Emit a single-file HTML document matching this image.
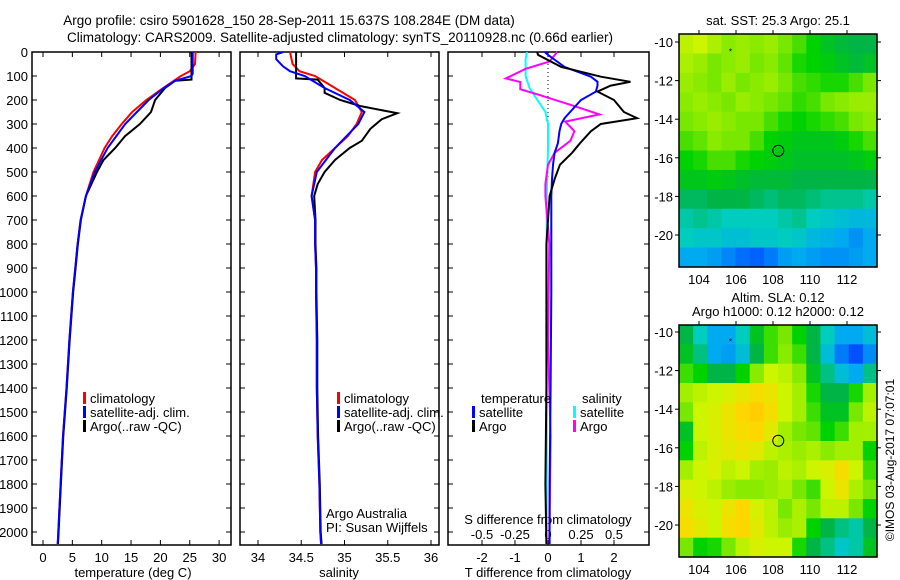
<!DOCTYPE html>
<html><head><meta charset="utf-8">
<style>
html,body{margin:0;padding:0;background:#fff;}
svg{display:block;font-family:"Liberation Sans",sans-serif;}
text{fill:#000;}
</style></head>
<body>
<svg id="fig" width="900" height="580" viewBox="0 0 900 580" xmlns="http://www.w3.org/2000/svg">
<text x="289" y="25" font-size="13.5" text-anchor="middle">Argo profile: csiro 5901628_150 28-Sep-2011 15.637S 108.284E (DM data)</text>
<text x="340" y="42" font-size="13.5" text-anchor="middle">Climatology: CARS2009. Satellite-adjusted climatology: synTS_20110928.nc (0.66d earlier)</text>
<g id="marks"></g>
</svg>
<script>
// ---------- data ----------
const depthTicks = [0,100,200,300,400,500,600,700,800,900,1000,1100,1200,1300,1400,1500,1600,1700,1800,1900,2000];
const tempTicks = [0,5,10,15,20,25,30];
const salTicks = [34,34.5,35,35.5,36];
const tdiffTicks = [-2,-1,0,1,2];
const sdiffTicks = [-0.5,-0.25,0,0.25,0.5];
const sdiffTickLabels = ["-0.5","-0.25","0","0.25","0.5"];
const lonTicks = [104,106,108,110,112];
const latTicks = [-10,-12,-14,-16,-18,-20];

const deepDepth = [700,800,900,1000,1200,1400,1600,1800,2000,2050];
const deepTemp = [6.4,5.9,5.5,5.1,4.5,4.0,3.4,3.0,2.6,2.5];
const deepSal = [34.66,34.66,34.67,34.67,34.68,34.68,34.69,34.71,34.72,34.73];

const tClimDepth = [0,50,80,100,150,200,250,300,350,400,500,600];
const tClim = [26.0,25.9,25.0,23.5,20.5,17.6,15.2,13.4,11.8,10.5,8.6,7.3];
const tSatDepth = [0,90,100,120,150,200,250,300,400,500,600];
const tSat = [25.5,25.5,25.3,22.5,20.6,18.0,16.0,14.0,11.0,8.8,7.3];
const tArgoDepth = [0,115,120,150,200,250,300,350,400,450,500,600];
const tArgo = [25.3,25.3,22.5,20.8,19.1,18.4,16.5,14.0,12.3,10.3,9.2,7.3];

const sClimDepth = [0,50,80,100,150,200,250,300,350,400,450,500,600];
const sClim = [34.37,34.40,34.48,34.66,34.89,35.12,35.20,35.14,35.04,34.89,34.74,34.66,34.62];
const sSatDepth = [0,10,30,60,80,100,150,200,250,300,400,500,600];
const sSat = [34.29,34.21,34.21,34.29,34.37,34.54,34.77,35.06,35.23,35.16,34.89,34.68,34.62];
const sArgoDepth = [0,110,115,150,170,200,225,255,280,320,370,400,450,500,550,600];
const sArgo = [34.44,34.44,34.69,34.77,34.77,34.95,35.18,35.61,35.43,35.30,35.20,35.06,34.89,34.77,34.69,34.65];

const dTDepth = [0,12,62,103,124,140,165,200,250,276,300,330,380,420,470,530,600,800,1000,1400,1800,2050];
const dTArgo = [-0.33,-0.3,0.4,1.6,2.5,1.9,1.5,2.0,2.3,2.7,1.6,1.3,0.97,0.73,0.36,0.2,0.05,-0.05,-0.05,-0.05,-0.08,-0.05];
const dTSat = [-0.1,0.0,0.5,1.3,1.5,1.5,1.45,1.0,0.67,0.5,0.4,0.35,0.3,0.2,0.15,0.12,0.1,0.1,0.1,0.08,0.05,0.05];
const dSDepth = [0,40,70,110,125,155,180,220,260,290,330,370,420,470,550,600,800,1200,1600,2050];
const dSArgo = [0.07,0.01,-0.17,-0.32,-0.21,-0.21,-0.06,0.17,0.39,0.13,0.2,0.17,0.05,0.0,-0.02,-0.02,0.01,0.0,0.02,0.01];
const dSSatDepth = [0,30,100,150,200,250,300,400,600,1000,2050];
const dSSat = [-0.16,-0.17,-0.17,-0.14,-0.08,-0.02,0.0,0.0,-0.01,-0.01,-0.01];

const sstGrid = [
[.78,.80,.76,.72,.74,.72,.74,.70,.66,.60,.55,.52,.50,.50],
[.76,.74,.70,.72,.74,.70,.72,.68,.62,.60,.58,.55,.52,.55],
[.74,.72,.70,.74,.70,.72,.74,.70,.66,.64,.62,.62,.66,.70],
[.72,.74,.72,.70,.74,.72,.70,.68,.64,.66,.70,.72,.74,.74],
[.70,.72,.74,.72,.70,.70,.66,.62,.60,.62,.64,.66,.70,.72],
[.66,.68,.72,.70,.70,.66,.60,.58,.56,.56,.56,.58,.62,.66],
[.60,.62,.66,.66,.62,.60,.58,.56,.54,.54,.54,.54,.56,.58],
[.56,.56,.58,.56,.54,.52,.52,.52,.50,.50,.50,.50,.50,.50],
[.48,.48,.50,.50,.50,.48,.46,.48,.48,.46,.44,.44,.44,.42],
[.42,.44,.42,.40,.40,.40,.40,.42,.44,.40,.38,.36,.34,.34],
[.40,.38,.38,.36,.36,.38,.38,.40,.38,.34,.32,.30,.26,.30],
[.30,.30,.28,.24,.20,.18,.22,.28,.30,.28,.26,.26,.28,.30]];
const slaGrid = [
[.50,.40,.30,.30,.40,.55,.65,.70,.60,.50,.40,.30,.30,.35],
[.55,.45,.30,.28,.35,.50,.65,.72,.65,.50,.35,.22,.15,.25],
[.65,.60,.50,.50,.60,.72,.80,.78,.72,.55,.45,.35,.30,.45],
[.75,.78,.80,.82,.85,.88,.86,.80,.75,.62,.50,.50,.62,.75],
[.70,.80,.82,.86,.90,.92,.88,.80,.75,.65,.55,.55,.70,.78],
[.55,.80,.82,.86,.88,.90,.84,.75,.70,.68,.60,.65,.75,.75],
[.60,.78,.82,.84,.86,.84,.78,.76,.74,.76,.72,.75,.75,.60],
[.75,.80,.82,.78,.80,.75,.74,.78,.76,.80,.82,.88,.80,.65],
[.82,.80,.78,.74,.72,.72,.74,.76,.70,.65,.80,.86,.76,.70],
[.86,.82,.80,.86,.90,.82,.78,.70,.76,.70,.78,.78,.70,.60],
[.88,.84,.80,.88,.90,.84,.78,.74,.76,.60,.50,.45,.42,.50],
[.70,.60,.62,.70,.78,.82,.80,.80,.62,.50,.45,.38,.42,.55]];
const argoLon = 108.284, argoLat = -15.637;

// ---------- helpers ----------
const NS="http://www.w3.org/2000/svg";
const root=document.getElementById('marks');
function mk(tag,attrs,parent,txt){const e=document.createElementNS(NS,tag);for(const k in attrs)e.setAttribute(k,attrs[k]);if(txt!==undefined)e.textContent=txt;(parent||root).appendChild(e);return e;}
const yD = d => 52 + d*0.24;
const xT = t => 43 + t*5.87;
const xS = s => 258 + (s-34)*86.5;
const xDT = v => 548 + v*33;
const xDS = v => 548 + v*132;
const lonX = lon => 699 + (lon-104)*18.5;
const latY1 = lat => 42 + (-10-lat)*19.3;
const latY2 = lat => 332 + (-10-lat)*19.3;

function line(xs, ds, xf, color, name, w){
  const pts = xs.map((v,i)=>xf(v).toFixed(1)+','+yD(ds[i]).toFixed(1)).join(' ');
  const p = mk('polyline',{points:pts,fill:'none',stroke:color,'stroke-width':w||2});
  
  
}
function frame(x0,x1,y0,y1,name){
  const r=mk('rect',{x:x0,y:y0,width:x1-x0,height:y1-y0,fill:'none',stroke:'#000','stroke-width':1.5});
  
  
}
function depthAxis(x0,x1,labels){
  depthTicks.forEach(d=>{
    mk('line',{x1:x0,x2:x0+5,y1:yD(d),y2:yD(d),stroke:'#000'});
    mk('line',{x1:x1-5,x2:x1,y1:yD(d),y2:yD(d),stroke:'#000'});
    if(labels){const t=mk('text',{x:28,y:yD(d)+5,'font-size':13,'text-anchor':'end'},root,String(d));
      
      }
  });
}
function xAxis(ticks,xf,labs,y0,y1,ly){
  ticks.forEach((v,i)=>{
    const x=xf(v);
    mk('line',{x1:x,x2:x,y1:y1,y2:y1-5,stroke:'#000'});
    mk('line',{x1:x,x2:x,y1:y0,y2:y0+5,stroke:'#000'});
    const t=mk('text',{x:x,y:ly,'font-size':13,'text-anchor':'middle'},root,labs?labs[i]:String(v));
    
    
  });
}
function label(x,y,txt,name,size,anchor){
  const t=mk('text',{x:x,y:y,'font-size':size||13,'text-anchor':anchor||'start'},root,txt);
  
  
  return t;
}
function legendEntry(x,y,color,txt){
  const b=mk('rect',{x:x,y:y-11,width:3,height:12,fill:color});
  
  
  label(x+7,y,txt,'legend-entry',13);
}

// ---------- panel 1: temperature ----------
const B=545;
frame(32,231,52,B,'temperature-panel');
depthAxis(32,231,true);
xAxis(tempTicks,xT,null,52,B,562);
label(133,577,'temperature (deg C)','x-axis-title-temperature',13,'middle');
line(tClim.concat(deepTemp),tClimDepth.concat(deepDepth),xT,'#f00','temp-climatology-line');
line(tArgo.concat(deepTemp.map(v=>v+0.05)),tArgoDepth.concat(deepDepth),xT,'#000','temp-argo-line');
line(tSat.concat(deepTemp),tSatDepth.concat(deepDepth),xT,'#00f','temp-satellite-line');
legendEntry(83,403,'#f00','climatology');
legendEntry(83,417,'#00f','satellite-adj. clim.');
legendEntry(83,431,'#000','Argo(..raw -QC)');

// ---------- panel 2: salinity ----------
frame(240,439,52,B,'salinity-panel');
depthAxis(240,439,false);
xAxis(salTicks,xS,null,52,B,562);
label(339,577,'salinity','x-axis-title-salinity',13,'middle');
line(sClim.concat(deepSal),sClimDepth.concat(deepDepth),xS,'#f00','sal-climatology-line');
line(sArgo.concat(deepSal.map(v=>v+0.005)),sArgoDepth.concat(deepDepth),xS,'#000','sal-argo-line');
line(sSat.concat(deepSal),sSatDepth.concat(deepDepth),xS,'#00f','sal-satellite-line');
legendEntry(337,403,'#f00','climatology');
legendEntry(337,417,'#00f','satellite-adj. clim.');
legendEntry(337,431,'#000','Argo(..raw -QC)');
label(326,518,'Argo Australia','argo-australia-label',13);
label(326,532,'PI: Susan Wijffels','pi-label',13);

// ---------- panel 3: differences ----------
frame(448,649,52,B,'difference-panel');
depthAxis(448,649,false);
const zl=mk('line',{x1:548,x2:548,y1:52,y2:180,stroke:'#000','stroke-dasharray':'1,3'});


tdiffTicks.forEach(v=>{const x=xDT(v);mk('line',{x1:x,x2:x,y1:B,y2:B-5,stroke:'#000'});mk('line',{x1:x,x2:x,y1:52,y2:57,stroke:'#000'});
  label(x,562,String(v),'tdiff-tick-label',13,'middle');});
sdiffTicks.forEach((v,i)=>{label(xDS(v),539,sdiffTickLabels[i],'sdiff-tick-label',13,'middle');});
label(548,524,'S difference from climatology','s-diff-axis-title',13,'middle');
label(548,577,'T difference from climatology','t-diff-axis-title',13,'middle');
line(dSSat,dSSatDepth,xDS,'#0ff','sdiff-satellite-line');
line(dSArgo,dSDepth,xDS,'#f0f','sdiff-argo-line');
line(dTSat,dTDepth,xDT,'#00f','tdiff-satellite-line');
line(dTArgo,dTDepth,xDT,'#000','tdiff-argo-line');
label(481,403,'temperature','legend-title-temperature',13);
legendEntry(472,417,'#00f','satellite');
legendEntry(472,431,'#000','Argo');
label(582,403,'salinity','legend-title-salinity',13);
legendEntry(573,417,'#0ff','satellite');
legendEntry(573,431,'#f0f','Argo');

// ---------- maps ----------
const stops=[[0.15,[0,80,255]],[0.3,[0,170,240]],[0.4,[0,205,190]],[0.5,[0,180,70]],[0.6,[0,210,0]],[0.7,[120,232,0]],[0.8,[205,245,0]],[0.9,[255,215,0]],[1,[255,170,0]]];
function cmap(v){
  if(v<=stops[0][0])return 'rgb('+stops[0][1]+')';
  for(let i=1;i<stops.length;i++){if(v<=stops[i][0]){const a=stops[i-1],b=stops[i],f=(v-a[0])/(b[0]-a[0]);
    return 'rgb('+a[1].map((c,k)=>Math.round(c+(b[1][k]-c)*f)).join(',')+')';}}
  return 'rgb('+stops[stops.length-1][1]+')';
}
function map(grid,y0,y1,latY,name){
  const x0=679,x1=877,nr=grid.length,nc=grid[0].length,cw=(x1-x0)/nc,ch=(y1-y0)/nr;
  grid.forEach((row,r)=>row.forEach((v,c)=>{
    const cell=mk('rect',{x:(x0+c*cw).toFixed(2),y:(y0+r*ch).toFixed(2),width:(cw+0.6).toFixed(2),height:(ch+0.6).toFixed(2),fill:cmap(v)});
    
    
  }));
  frame(x0,x1,y0,y1,name);
  lonTicks.forEach(l=>{const x=lonX(l);mk('line',{x1:x,x2:x,y1:y0,y2:y0-4,stroke:'#000'});
    label(x,y1+17,String(l),'lon-tick-label',13,'middle');});
  latTicks.forEach(l=>{const y=latY(l);mk('line',{x1:x0,x2:x0-4,y1:y,y2:y,stroke:'#000'});mk('line',{x1:x1,x2:x1+4,y1:y,y2:y,stroke:'#000'});
    label(x0-6,y+5,String(l),'lat-tick-label',13,'end');});
  const c=mk('circle',{cx:lonX(argoLon),cy:latY(argoLat),r:5.5,fill:'none',stroke:'#000'});
  
  
  const s=mk('text',{x:lonX(105.7),y:latY(-10.5)+3,'font-size':8,'text-anchor':'middle'},root,'*');
  
  
}
map(sstGrid,34,267,latY1,'sst-map');
label(778,25,'sat. SST: 25.3 Argo: 25.1','sst-map-title',13,'middle');
map(slaGrid,325,557,latY2,'sla-map');
label(778,302,'Altim. SLA: 0.12','sla-map-title',13,'middle');
label(778,316,'Argo h1000: 0.12 h2000: 0.12','sla-map-subtitle',13,'middle');
const cr=label(0,0,'©IMOS 03-Aug-2017 07:07:01','copyright-timestamp',12,'middle');
cr.setAttribute('transform','translate(894,460) rotate(-90)');
</script>
</body></html>
